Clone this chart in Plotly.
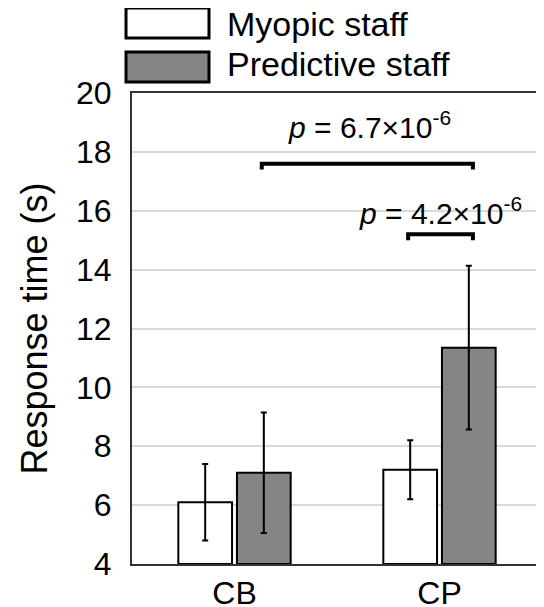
import plotly.graph_objects as go

categories = ["CB", "CP"]
series_names = ["Myopic staff", "Predictive staff"]
myopic_mean = [6.1, 7.2]
myopic_err = [1.3, 1.0]
predictive_mean = [7.1, 11.35]
predictive_err = [2.05, 2.78]
y_ticks = [4, 6, 8, 10, 12, 14, 16, 18, 20]
p_labels = ["6.7×10", "4.2×10"]
p_exp = ["-6", "-6"]

FONT = "Liberation Sans, Arial, Helvetica, sans-serif"
GRAY = "#858585"
BAR_W = 0.262
OFFSETS = [-0.274, 0.012]

fig = go.Figure()
fills = ["white", GRAY]
means = [myopic_mean, predictive_mean]
errs = [myopic_err, predictive_err]
for i in range(2):
    fig.add_trace(go.Bar(
        x=categories, y=[m - 4 for m in means[i]], base=4,
        name=series_names[i],
        width=BAR_W, offset=OFFSETS[i],
        marker=dict(color=fills[i], line=dict(color="black", width=2)),
        error_y=dict(type="data", array=errs[i], color="black", thickness=2, width=3),
        showlegend=False,
    ))

centers = [OFFSETS[i] + BAR_W / 2 for i in range(2)]

# brackets (between bar centres)
brackets = [
    (0 + centers[1], 1 + centers[1], 17.6),
    (1 + centers[0], 1 + centers[1], 15.2),
]
tick_drop = 0.2
for x0, x1, yb in brackets:
    fig.add_shape(type="path",
                  path=f"M {x0-0.01},{yb-tick_drop} L {x0-0.01},{yb} L {x1+0.02},{yb} L {x1+0.02},{yb-tick_drop}",
                  xref="x", yref="y", line=dict(color="black", width=4))

p_pos = [(0.66, 18.93), (1.005, 15.98)]
for (px, py), lab, ex in zip(p_pos, p_labels, p_exp):
    fig.add_annotation(x=px, y=py, xref="x", yref="y",
                       text=f"<i>p</i> = {lab}<sup>{ex}</sup>",
                       showarrow=False, xanchor="center", yanchor="middle",
                       font=dict(family=FONT, size=30, color="black"))

# manual legend
leg = [(1.1805, 1.1168, 1.146), (1.087, 1.0234, 1.0626)]
for i, (y0, y1, yt) in enumerate(leg):
    fig.add_shape(type="rect", xref="paper", yref="paper",
                  x0=-0.0146, x1=0.1878, y0=y1, y1=y0,
                  fillcolor=fills[i], line=dict(color="black", width=3))
    fig.add_annotation(x=0.2268, y=yt, xref="paper", yref="paper",
                       text=series_names[i], showarrow=False,
                       xanchor="left", yanchor="middle",
                       font=dict(family=FONT, size=34, color="black"))

fig.update_layout(
    width=536, height=599,
    margin=dict(l=124, r=2, t=85, b=43, autoexpand=False),
    paper_bgcolor="white", plot_bgcolor="white",
    font=dict(family=FONT, color="black"),
    barmode="group",
)
fig.update_xaxes(range=[-0.5, 1.5], showline=True, mirror=True, linecolor="#333333",
                 linewidth=2, showgrid=False, ticks="", tickfont=dict(size=32),
                 ticklabelstandoff=0, automargin=False)
fig.update_yaxes(range=[4, 20], tickvals=y_ticks, showline=True, mirror=True,
                 linecolor="#333333", linewidth=2, showgrid=True, gridcolor="#d9d9d9",
                 gridwidth=1.5, zeroline=False, ticks="", tickfont=dict(size=32),
                 ticklabelstandoff=12, automargin=False,
                 title=dict(text="Response time (s)", font=dict(size=36), standoff=17))

fig.write_html("out.html")
